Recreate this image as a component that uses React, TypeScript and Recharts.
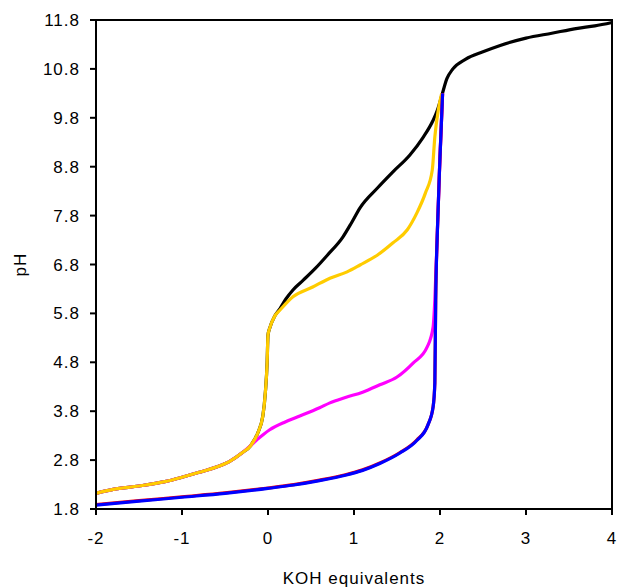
import React from "react";
import { LineChart, Line, XAxis, YAxis, ReferenceArea, Label } from "recharts";

// Shared acid region (black / magenta / gold start together)
const acidX = [-2, -1.8, -1.5, -1.2, -1.0, -0.8, -0.6, -0.45, -0.3, -0.2];
const acidY = [2.12, 2.2, 2.27, 2.36, 2.45, 2.55, 2.66, 2.77, 2.95, 3.1];

const blackX = [-0.12, -0.06, -0.03, -0.01, 0.0, 0.02, 0.08, 0.14, 0.21, 0.29, 0.41, 0.55, 0.69, 0.87, 0.97, 1.07, 1.27, 1.45, 1.65, 1.8, 1.92, 1.97, 2.02, 2.08, 2.15, 2.3, 2.5, 2.7, 3.0, 3.3, 3.6, 3.8, 4.0];
const blackY = [3.35, 3.7, 4.2, 4.8, 5.36, 5.5, 5.75, 5.9, 6.1, 6.28, 6.48, 6.72, 6.99, 7.36, 7.65, 7.96, 8.36, 8.69, 9.04, 9.39, 9.75, 9.96, 10.25, 10.6, 10.8, 11.0, 11.15, 11.28, 11.43, 11.53, 11.63, 11.68, 11.75];

const goldX = [-0.12, -0.06, -0.03, -0.01, 0.0, 0.02, 0.08, 0.14, 0.29, 0.52, 0.72, 0.92, 1.07, 1.27, 1.45, 1.62, 1.73, 1.83, 1.91, 1.94, 1.98, 2.02];
const goldY = [3.35, 3.7, 4.2, 4.8, 5.36, 5.5, 5.75, 5.87, 6.14, 6.34, 6.52, 6.65, 6.79, 6.99, 7.24, 7.51, 7.85, 8.26, 8.73, 9.41, 9.96, 10.3];

const magentaX = [-0.12, -0.05, 0.02, 0.2, 0.34, 0.6, 0.72, 0.9, 1.1, 1.3, 1.5, 1.69, 1.85, 1.92, 1.94, 1.97, 2.0, 2.03];
const magentaY = [3.23, 3.33, 3.42, 3.58, 3.68, 3.87, 3.97, 4.08, 4.19, 4.34, 4.5, 4.79, 5.11, 5.52, 6.07, 7.5, 9.0, 10.3];

const baseX = [-2, -1.5, -1.0, -0.5, 0.0, 0.3, 0.6, 0.9, 1.1, 1.3, 1.53, 1.73, 1.86, 1.92, 1.94, 1.95, 1.97, 2.0, 2.03];
const redY = [1.89, 1.97, 2.05, 2.13, 2.23, 2.3, 2.39, 2.5, 2.6, 2.74, 2.95, 3.21, 3.52, 3.89, 4.38, 6.07, 7.5, 9.0, 10.3];
const blueY = [1.88, 1.96, 2.04, 2.12, 2.22, 2.29, 2.38, 2.49, 2.59, 2.73, 2.94, 3.2, 3.52, 3.89, 4.38, 6.07, 7.5, 9.0, 10.3];

const xTicks = [-2, -1, 0, 1, 2, 3, 4];
const yTicks = [1.8, 2.8, 3.8, 4.8, 5.8, 6.8, 7.8, 8.8, 9.8, 10.8, 11.8];

const zip = (xs: number[], ys: number[]) => xs.map((x, i) => ({ x, y: ys[i] }));
const acid = zip(acidX, acidY);
const blackData = [...acid, ...zip(blackX, blackY)];
const goldData = [...acid, ...zip(goldX, goldY)];
const magentaData = [...acid, ...zip(magentaX, magentaY)];
const redData = zip(baseX, redY);
const blueData = zip(baseX, blueY);

const font = "Arial, 'Liberation Sans', sans-serif";
const textStyle = { fill: "#000", fontSize: 17, fontFamily: font, letterSpacing: 1 };

export default function App() {
  return (
    <div style={{ position: "absolute", left: 0, top: 0, width: 619, height: 588, background: "#fff" }}>
      <LineChart width={619} height={588} margin={{ top: 20, right: 7, bottom: 0, left: 6 }}>
        <XAxis
          dataKey="x"
          type="number"
          domain={[-2, 4]}
          ticks={xTicks}
          allowDuplicatedCategory={false}
          height={79}
          stroke="#000"
          axisLine={{ stroke: "#000", strokeWidth: 2 }}
          tickLine={{ stroke: "#000", strokeWidth: 2 }}
          tickSize={6}
          tickMargin={17}
          tick={textStyle}
        >
          <Label value="KOH equivalents" position="insideBottom" offset={4} style={textStyle} />
        </XAxis>
        <YAxis
          dataKey="y"
          type="number"
          domain={[1.8, 11.8]}
          ticks={yTicks}
          width={90}
          axisLine={{ stroke: "#000", strokeWidth: 2 }}
          tickLine={{ stroke: "#000", strokeWidth: 2 }}
          tickSize={6}
          tickMargin={10}
          tick={textStyle}
        >
          <Label value="pH" angle={-90} position="insideLeft" offset={14} style={{ ...textStyle, textAnchor: "middle" }} />
        </YAxis>
        <ReferenceArea x1={-2} x2={4} y1={1.8} y2={11.8} fill="none" stroke="#000" strokeWidth={2} ifOverflow="extendDomain" />
        <Line data={blackData} dataKey="y" stroke="#000000" strokeWidth={3.2} dot={false} isAnimationActive={false} type="monotone" />
        <Line data={magentaData} dataKey="y" stroke="#FF00FF" strokeWidth={3.2} dot={false} isAnimationActive={false} type="monotone" />
        <Line data={goldData} dataKey="y" stroke="#FFCC00" strokeWidth={3.2} dot={false} isAnimationActive={false} type="monotone" />
        <Line data={redData} dataKey="y" stroke="#FF0000" strokeWidth={3.2} dot={false} isAnimationActive={false} type="monotone" />
        <Line data={blueData} dataKey="y" stroke="#0000FF" strokeWidth={3.2} dot={false} isAnimationActive={false} type="monotone" />
      </LineChart>
    </div>
  );
}
